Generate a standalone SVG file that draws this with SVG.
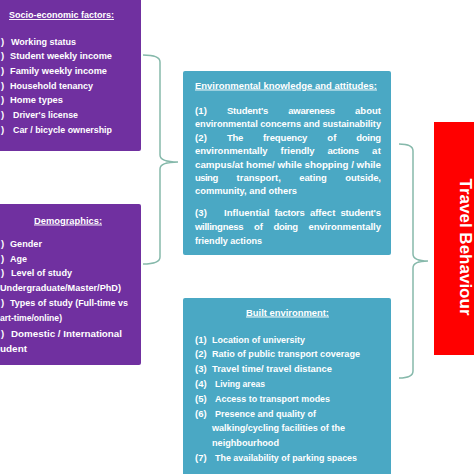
<svg xmlns="http://www.w3.org/2000/svg" width="474" height="474" viewBox="0 0 474 474">
<style>
  .t{font-family:"Liberation Sans",Arial,sans-serif;font-weight:bold;font-size:9.5px;fill:#ffffff}
  .u{text-decoration:underline}
  .purple{fill:#7030a0}
  .teal{fill:#4aa8c4}
  .brace{fill:none;stroke:#86b9ab;stroke-width:1.5}
</style>
<rect width="474" height="474" fill="#ffffff"/>

<g id="socio-economic">
  <rect class="purple" x="-5" y="-5" width="146" height="156" rx="2"/>
  <text class="t u" x="9" y="18" textLength="105" lengthAdjust="spacingAndGlyphs">Socio-economic factors:</text>
  <text class="t" x="1" y="44.5">)</text><text class="t" x="11" y="44.5" textLength="65" lengthAdjust="spacingAndGlyphs">Working status</text>
  <text class="t" x="1" y="59">)</text><text class="t" x="10" y="59" textLength="102" lengthAdjust="spacingAndGlyphs">Student weekly income</text>
  <text class="t" x="1" y="73.5">)</text><text class="t" x="10" y="73.5" textLength="97" lengthAdjust="spacingAndGlyphs">Family weekly income</text>
  <text class="t" x="1" y="88.5">)</text><text class="t" x="10" y="88.5" textLength="83" lengthAdjust="spacingAndGlyphs">Household tenancy</text>
  <text class="t" x="1" y="103">)</text><text class="t" x="10" y="103" textLength="53" lengthAdjust="spacingAndGlyphs">Home types</text>
  <text class="t" x="1" y="117.5">)</text><text class="t" x="13" y="117.5" textLength="65" lengthAdjust="spacingAndGlyphs">Driver's license</text>
  <text class="t" x="1" y="132.5">)</text><text class="t" x="13" y="132.5" textLength="99" lengthAdjust="spacingAndGlyphs">Car / bicycle ownership</text>
</g>

<g id="demographics">
  <rect class="purple" x="-5" y="204" width="146" height="161" rx="2"/>
  <text class="t u" x="34" y="223.5" textLength="68" lengthAdjust="spacingAndGlyphs">Demographics:</text>
  <text class="t" x="1" y="246.5">)</text><text class="t" x="10" y="246.5" textLength="32" lengthAdjust="spacingAndGlyphs">Gender</text>
  <text class="t" x="1" y="261.5">)</text><text class="t" x="10" y="261.5" textLength="17" lengthAdjust="spacingAndGlyphs">Age</text>
  <text class="t" x="1" y="276">)</text><text class="t" x="11" y="276" textLength="61" lengthAdjust="spacingAndGlyphs">Level of study</text>
  <text class="t" x="0" y="291" textLength="121" lengthAdjust="spacingAndGlyphs">Undergraduate/Master/PhD)</text>
  <text class="t" x="1" y="306">)</text><text class="t" x="10" y="306" textLength="118" lengthAdjust="spacingAndGlyphs">Types of study (Full-time vs</text>
  <text class="t" x="0" y="321" textLength="62" lengthAdjust="spacingAndGlyphs">art-time/online)</text>
  <text class="t" x="1" y="336.5">)</text><text class="t" x="11" y="336.5" textLength="111" lengthAdjust="spacingAndGlyphs">Domestic / International</text>
  <text class="t" x="0" y="352" textLength="27" lengthAdjust="spacingAndGlyphs">udent</text>
</g>

<g id="environmental-knowledge">
  <rect class="teal" x="183" y="71" width="208" height="184" rx="2"/>
  <text class="t u" x="195" y="88.5" textLength="182" lengthAdjust="spacingAndGlyphs">Environmental knowledge and attitudes:</text>
  <text class="t" y="113.5" lengthAdjust="spacingAndGlyphs"><tspan x="195" textLength="12">(1)</tspan><tspan x="226.9" textLength="41.4">Student's</tspan><tspan x="288.2" textLength="46.9">awareness</tspan><tspan x="355" textLength="26">about</tspan></text>
  <text class="t" x="195" y="127" textLength="186" lengthAdjust="spacingAndGlyphs">environmental concerns and sustainability</text>
  <text class="t" y="140.5"><tspan x="195" textLength="12">(2)</tspan><tspan x="226.9" textLength="16.3">The</tspan><tspan x="263.1" textLength="44.3">frequency</tspan><tspan x="327.3" textLength="9.1">of</tspan><tspan x="356.3" textLength="24.7">doing</tspan></text>
  <text class="t" y="154"><tspan x="195" textLength="72.6">environmentally</tspan><tspan x="280.5" textLength="34.1">friendly</tspan><tspan x="327.5" textLength="31.6">actions</tspan><tspan x="372.1" textLength="8.9">at</tspan></text>
  <text class="t" x="195" y="167.5" textLength="186" lengthAdjust="spacingAndGlyphs">campus/at home/ while shopping / while</text>
  <text class="t" y="181"><tspan x="195" textLength="23.2">using</tspan><tspan x="236.6" textLength="44.2">transport,</tspan><tspan x="299.2" textLength="27.6">eating</tspan><tspan x="345.3" textLength="35.7">outside,</tspan></text>
  <text class="t" x="195" y="194" textLength="102" lengthAdjust="spacingAndGlyphs">community, and others</text>
  <text class="t" y="216"><tspan x="195" textLength="12">(3)</tspan><tspan x="224" textLength="45.3">Influential</tspan><tspan x="274.4" textLength="30.4">factors</tspan><tspan x="309.9" textLength="25.4">affect</tspan><tspan x="340.4" textLength="40.6">student's</tspan></text>
  <text class="t" y="229.5"><tspan x="195" textLength="48.5">willingness</tspan><tspan x="253.9" textLength="9.1">of</tspan><tspan x="273.4" textLength="24.7">doing</tspan><tspan x="308.4" textLength="72.6">environmentally</tspan></text>
  <text class="t" x="195" y="243.5" textLength="67" lengthAdjust="spacingAndGlyphs">friendly actions</text>
</g>

<g id="built-environment">
  <rect class="teal" x="183" y="298" width="208" height="182" rx="2"/>
  <text class="t u" x="246" y="315.5" textLength="83" lengthAdjust="spacingAndGlyphs">Built environment:</text>
  <text class="t" x="195" y="342.5">(1)</text><text class="t" x="212" y="342.5" textLength="93" lengthAdjust="spacingAndGlyphs">Location of university</text>
  <text class="t" x="195" y="357">(2)</text><text class="t" x="212" y="357" textLength="148" lengthAdjust="spacingAndGlyphs">Ratio of public transport coverage</text>
  <text class="t" x="195" y="372">(3)</text><text class="t" x="212" y="372" textLength="120" lengthAdjust="spacingAndGlyphs">Travel time/ travel distance</text>
  <text class="t" x="195" y="386.5">(4)</text><text class="t" x="215" y="386.5" textLength="50" lengthAdjust="spacingAndGlyphs">Living areas</text>
  <text class="t" x="195" y="401.5">(5)</text><text class="t" x="215" y="401.5" textLength="115" lengthAdjust="spacingAndGlyphs">Access to transport modes</text>
  <text class="t" x="195" y="416.5">(6)</text><text class="t" x="215" y="416.5" textLength="101" lengthAdjust="spacingAndGlyphs">Presence and quality of</text>
  <text class="t" x="212" y="431" textLength="133" lengthAdjust="spacingAndGlyphs">walking/cycling facilities of the</text>
  <text class="t" x="212" y="446" textLength="67" lengthAdjust="spacingAndGlyphs">neighbourhood</text>
  <text class="t" x="195" y="460.5">(7)</text><text class="t" x="215" y="460.5" textLength="142" lengthAdjust="spacingAndGlyphs">The availability of parking spaces</text>
</g>

<g id="travel-behaviour">
  <rect x="434" y="122" width="46" height="233" fill="#ff0000"/>
  <text transform="translate(459.5,247) rotate(90)" text-anchor="middle" font-family="'Liberation Sans',Arial,sans-serif" font-weight="bold" font-size="17" fill="#ffffff">Travel Behaviour</text>
</g>

<g id="connectors">
  <path class="brace" d="M143,55 Q160,55 160,62 L160,155 Q160,162 178,162 Q160,162 160,169 L160,257 Q160,264 143,264"/>
  <path class="brace" d="M399,144 Q413,144 413,151 L413,254 Q413,261 428,261 Q413,261 413,268 L413,371 Q413,378 399,378"/>
</g>
</svg>
